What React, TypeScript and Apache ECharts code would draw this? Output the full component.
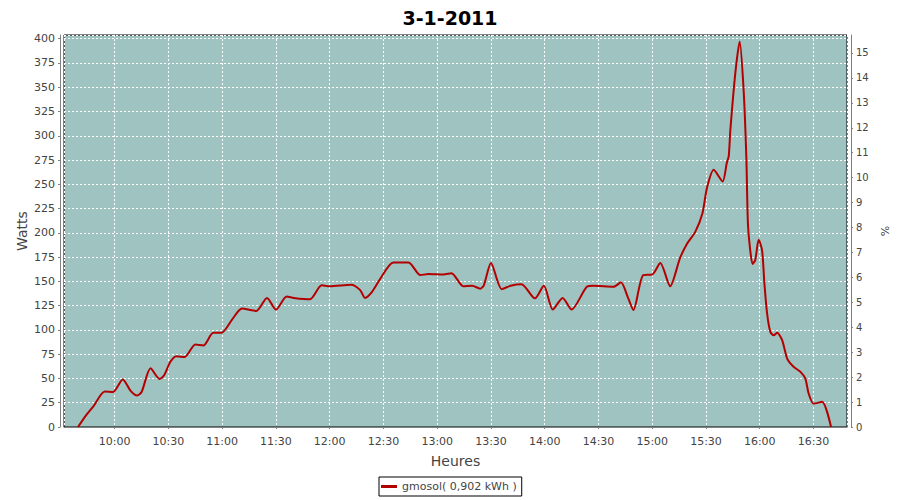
import React, { useEffect, useRef } from "react";
import * as echarts from "echarts";

const chartTitle = "3-1-2011";
const seriesName = "gmosol( 0,902 kWh )";
const xAxisName = "Heures";
const leftAxisName = "Watts";
const rightAxisName = "%";

// time of day in minutes since midnight
const timeMinutes = [
  579.5, 584, 588, 594.5, 599, 604.5, 609, 612.5, 615, 620, 625, 627.5, 631, 634.5, 639,
  645, 649.5, 655, 659.5, 666, 671, 679, 685, 690, 696, 700, 709, 715.5, 720, 732, 737,
  739.7, 743.5, 748, 755.5, 764, 770.5, 775, 783.5, 788, 794.5, 799.5, 804, 806, 810, 816,
  821, 827, 834.5, 839.5, 844.5, 850, 855, 863.5, 867, 878.5, 882.5, 886.5, 889.5, 895,
  900, 904.5, 910, 915.5, 919.5, 924, 928, 930.5, 934.3, 939.3, 941.6, 942.7, 943.6, 946.4,
  948.8, 951, 952.5, 953.4, 954.7, 956, 957.5, 959.4, 961.3, 962.6, 964.1, 965.9, 967.8,
  969.7, 972.5, 975.3, 978.9, 982.6, 985.4, 987.3, 990.1, 994.8, 999.8,
];
const watts = [
  0, 12, 21, 36.5, 36, 49, 37, 32.5, 36, 60.5, 49.5, 53, 67, 73, 72,
  85, 84, 97, 97, 112, 122, 119.5, 133, 121, 134.5, 133, 131.5, 146, 145, 146.5, 141,
  133, 139, 152, 169.5, 169.5, 156.5, 157.5, 157, 158.5, 145, 145.5, 142.5, 146, 169, 142,
  145.5, 147, 132.5, 145.5, 121, 133, 121, 144.5, 145.5, 144.5, 149, 133, 120.5, 156.5,
  157, 169, 145, 174, 189, 201, 220, 246, 265, 253, 272, 279, 306, 365,
  397, 347, 279, 210, 182, 168, 172, 193, 182, 148, 117, 98, 94.5,
  97, 89.5, 70.5, 62, 57, 50, 34.5, 24, 26, 0,
];

const xMin = 571.7;
const xMax = 1008.7;
const leftMax = 403.8;
const rightMax = 15.72;

const fmtTime = (v: number) => {
  const h = Math.floor(v / 60);
  const m = Math.round(v - h * 60);
  return `${h}:${String(m).padStart(2, "0")}`;
};

export default function App() {
  const ref = useRef<HTMLDivElement>(null);
  useEffect(() => {
    if (!ref.current) return;
    const chart = echarts.init(ref.current, undefined, { renderer: "svg" });
    const font = "DejaVu Sans";
    const labelColor = "#444444";
    const axisGrey = "#808080";
    chart.setOption({
      animation: false,
      backgroundColor: "#ffffff",
      title: {
        text: chartTitle,
        left: "center",
        top: 3,
        textStyle: { fontFamily: font, fontSize: 19, fontWeight: "bold", color: "#000" },
      },
      grid: {
        left: 64,
        right: 53,
        top: 35,
        bottom: 73,
        show: true,
        backgroundColor: "#9fc3c1",
        borderColor: "#000",
        borderWidth: 1,
      },
      legend: {
        left: 379,
        top: 477,
        borderColor: "#000",
        borderWidth: 1,
        padding: [4, 5, 4, 2],
        itemWidth: 16,
        itemHeight: 3,
        icon: "rect",
        textStyle: { fontFamily: font, fontSize: 11, color: labelColor },
        data: [{ name: seriesName }],
      },
      xAxis: {
        type: "value",
        min: xMin,
        max: xMax,
        minInterval: 30,
        maxInterval: 30,
        offset: 4,
        name: xAxisName,
        nameLocation: "middle",
        nameGap: 23,
        nameTextStyle: { fontFamily: font, fontSize: 14, color: labelColor },
        axisLine: { show: true, lineStyle: { color: axisGrey } },
        axisTick: { show: true, length: 2, lineStyle: { color: axisGrey } },
        axisLabel: {
          fontFamily: font,
          fontSize: 11,
          color: labelColor,
          margin: 5,
          showMinLabel: false,
          showMaxLabel: false,
          formatter: fmtTime,
        },
        splitLine: { show: true, lineStyle: { color: "#ffffff", type: [2, 2], width: 1 } },
      },
      yAxis: [
        {
          type: "value",
          min: 0,
          max: leftMax,
          interval: 25,
          offset: 4,
          position: "left",
          name: leftAxisName,
          nameLocation: "middle",
          nameGap: 31,
          nameMoveOverlap: false,
          nameTextStyle: { fontFamily: font, fontSize: 14, color: labelColor },
          axisLine: { show: true, lineStyle: { color: axisGrey } },
          axisTick: { show: true, length: 2, lineStyle: { color: axisGrey } },
          axisLabel: {
            fontFamily: font,
            fontSize: 11,
            color: labelColor,
            margin: 5,
            showMaxLabel: false,
          },
          splitLine: { show: true, lineStyle: { color: "#ffffff", type: [2, 2], width: 1 } },
        },
        {
          type: "value",
          min: 0,
          max: rightMax,
          interval: 1,
          offset: 4,
          position: "right",
          name: rightAxisName,
          nameLocation: "middle",
          nameGap: 24,
          nameTextStyle: { fontFamily: font, fontSize: 11, color: labelColor },
          axisLine: { show: true, lineStyle: { color: axisGrey } },
          axisTick: { show: true, length: 2, lineStyle: { color: axisGrey } },
          axisLabel: {
            fontFamily: font,
            fontSize: 10,
            color: labelColor,
            margin: 5,
            showMaxLabel: false,
          },
          splitLine: { show: false },
        },
      ],
      series: [
        {
          name: seriesName,
          type: "line",
          yAxisIndex: 0,
          smooth: 0.25,
          symbol: "none",
          lineStyle: { color: "#b30000", width: 2 },
          itemStyle: { color: "#b30000" },
          data: timeMinutes.map((t, i) => [t, watts[i]]),
        },
      ],
    });
    return () => chart.dispose();
  }, []);
  return (
    <div
      ref={ref}
      style={{ position: "fixed", left: 0, top: 0, width: 900, height: 500, background: "#fff" }}
    />
  );
}
